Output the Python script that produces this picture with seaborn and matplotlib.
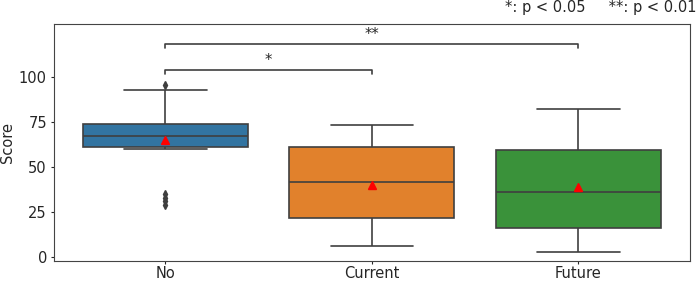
import numpy as np
import pandas as pd
import seaborn as sns
import matplotlib
matplotlib.use("Agg")
import matplotlib.pyplot as plt

# Scores per group
groups = ["No", "Current", "Future"]
no_scores = [29, 31, 33, 35, 59.9, 61.5, 62.5, 64.5, 66, 66.6, 67.6, 70,
             71.5, 72.8, 73.2, 75.2, 82, 90, 92.4, 95.4]
current_scores = [6.1, 9, 13, 17, 20, 22.4, 24, 28, 34, 40.5, 42.5, 45,
                  49, 54, 60, 63.2, 64, 66, 68, 73.5]
future_scores = [2.8, 5, 8, 12, 15, 16.7, 20, 25, 30, 35, 36.8, 42,
                 50, 56, 58.5, 62.1, 68, 74, 79, 82]

# significance brackets: (group a, group b, bar height, label)
pairs = [("No", "Current", 103.6, "*"), ("No", "Future", 118, "**")]

df = pd.DataFrame({
    "group": ["No"] * len(no_scores) + ["Current"] * len(current_scores)
             + ["Future"] * len(future_scores),
    "Score": no_scores + current_scores + future_scores,
})

sns.set_style("ticks")
plt.rcParams["font.family"] = ["DejaVu Sans"]

fig, ax = plt.subplots(figsize=(6.99, 2.81), dpi=100)
fig.subplots_adjust(left=0.077, right=0.987, bottom=0.072, top=0.913)

sns.boxplot(data=df, x="group", y="Score", order=groups, hue="group",
            palette="tab10", saturation=0.75, linecolor="#3f3f3f",
            linewidth=1.2, showmeans=True, ax=ax,
            meanprops=dict(marker="^", markerfacecolor="red",
                           markeredgecolor="red", markersize=6),
            flierprops=dict(marker="d", markerfacecolor="#3f3f3f",
                            markeredgecolor="#3f3f3f", markersize=4))

for a, b, h, lab in pairs:
    xa, xb = groups.index(a), groups.index(b)
    ax.plot([xa, xa, xb, xb], [h - 2.2, h, h, h - 2.2], color="#3f3f3f", lw=1.2)
    ax.text((xa + xb) / 2, h + 1.5, lab, ha="center", va="bottom", fontsize=10.5)

ax.set_ylim(-2, 129)
ax.set_yticks([0, 25, 50, 75, 100])
ax.set_xlabel("")
ax.set_ylabel("Score", fontsize=10.5, labelpad=3)
ax.tick_params(labelsize=10.5, length=2.5, pad=2.5)
ax.tick_params(axis="x", pad=1.5)
for s in ax.spines.values():
    s.set_color("#444444")

fig.text(505 / 699, 1 - 12 / 281, "*: p < 0.05     **: p < 0.01",
         fontsize=10.5, ha="left", va="baseline")

fig.savefig("out.png", dpi=100)
